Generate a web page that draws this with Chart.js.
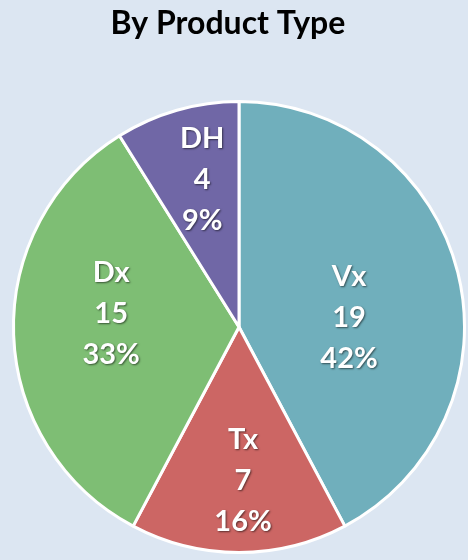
<!DOCTYPE html>
<html>
<head>
<meta charset="utf-8">
<script src="https://cdn.jsdelivr.net/npm/chart.js@4"></script>
<style>
html,body{margin:0;padding:0;background:#DCE6F2;}
#wrap{width:468px;height:560px;}
</style>
</head>
<body>
<div id="wrap"><canvas id="c" width="468" height="560"></canvas></div>
<script>
const categories = ["Vx", "Tx", "Dx", "DH"];
const counts = [19, 7, 15, 4];
const percentLabels = ["42%", "16%", "33%", "9%"];
const sliceColors = ["#70AFBC", "#CC6664", "#7EBE74", "#7067A6"];
const labelRadius = [0.49, 0.68, 0.57, 0.675];
const labelAngleShiftDeg = [9, -1.5, 8, 2];

const sliceLabels = {
  id: 'sliceLabels',
  afterDatasetsDraw(chart) {
    const ctx = chart.ctx;
    const meta = chart.getDatasetMeta(0);
    ctx.save();
    // title
    ctx.font = 'bold 32px Lato';
    ctx.textAlign = 'center';
    ctx.textBaseline = 'middle';
    ctx.fillStyle = '#000000';
    ctx.fillText('By Product Type', 228, 24);
    // slice labels
    ctx.font = 'bold 29px Lato';
    ctx.fillStyle = '#ffffff';
    ctx.shadowColor = 'rgba(0,0,0,0.55)';
    ctx.shadowOffsetX = 1;
    ctx.shadowOffsetY = 1.5;
    ctx.shadowBlur = 2;
    meta.data.forEach((arc, i) => {
      const p = arc.getProps(['x','y','startAngle','endAngle','outerRadius'], true);
      const mid = (p.startAngle + p.endAngle) / 2 + labelAngleShiftDeg[i] * Math.PI / 180;
      const r = p.outerRadius * labelRadius[i];
      const cx = p.x + Math.cos(mid) * r;
      const cy = p.y + Math.sin(mid) * r;
      const lines = [categories[i], String(counts[i]), percentLabels[i]];
      const lh = 41;
      lines.forEach((t, k) => {
        ctx.fillText(t, cx, cy + (k - 1) * lh);
      });
    });
    ctx.restore();
  }
};

new Chart(document.getElementById('c'), {
  type: 'pie',
  data: {
    labels: categories,
    datasets: [{
      data: counts,
      backgroundColor: sliceColors,
      borderColor: '#ffffff',
      borderWidth: 3,
      hoverOffset: 0
    }]
  },
  options: {
    responsive: false,
    animation: false,
    layout: { padding: { left: 12, right: 2, top: 98, bottom: 4 } },
    plugins: {
      legend: { display: false },
      tooltip: { enabled: false },
      title: { display: false }
    }
  },
  plugins: [sliceLabels]
});
</script>
</body>
</html>
